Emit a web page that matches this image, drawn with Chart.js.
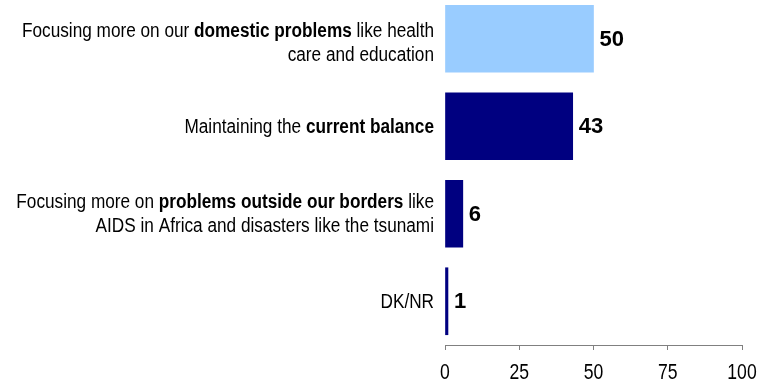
<!DOCTYPE html>
<html>
<head>
<meta charset="utf-8">
<script src="https://cdn.jsdelivr.net/npm/chart.js@4"></script>
<style>
  html, body { margin: 0; padding: 0; background: #fff; overflow: hidden; }
  #wrap { position: absolute; left: 0; top: -5px; width: 757px; height: 390px; }
</style>
</head>
<body>
<div id="wrap"><canvas id="c" width="757" height="390"></canvas></div>
<script>
// Category labels; "**" marks bold text, "\n" breaks a line.
const categories = [
  "Focusing more on our **domestic problems** like health\ncare and education",
  "Maintaining the **current balance**",
  "Focusing more on **problems outside our borders** like\nAIDS in Africa and disasters like the tsunami",
  "DK/NR"
];
const values = [50, 43, 6, 1];
const barColors = ["#99CCFF", "#000080", "#000080", "#000080"];
const xTicks = [0, 25, 50, 75, 100];

const FONT = "'Liberation Sans', Arial, sans-serif";
const NARROW = 0.86;     // horizontal squeeze for the condensed label face
const TICK_NARROW = 0.8;
const LABEL_NUDGE = [4, 0, 0, 0]; // vertical fine-tuning of each category label block

// Draws text squeezed horizontally, starting at x (left edge).
function narrowText(ctx, text, x, y, sx) {
  ctx.save();
  ctx.translate(x, y);
  ctx.scale(sx, 1);
  ctx.fillText(text, 0, 0);
  ctx.restore();
}

// Rich category labels left of the bars, value labels right of them, x tick labels below.
const richLabels = {
  id: 'richLabels',
  afterDatasetsDraw(chart) {
    const ctx = chart.ctx;
    const y = chart.scales.y;
    const xs = chart.scales.x;
    const meta = chart.getDatasetMeta(0);
    ctx.save();
    ctx.fillStyle = '#000';
    ctx.textBaseline = 'middle';
    ctx.textAlign = 'left';
    categories.forEach((cat, i) => {
      const cy = y.getPixelForValue(i);
      const lines = cat.split('\n');
      const lh = 24;
      const top = cy - (lines.length - 1) * lh / 2 + 1 + LABEL_NUDGE[i];
      lines.forEach((line, li) => {
        const segs = line.split('**').map((t, k) => ({ t, bold: k % 2 === 1 }));
        let w = 0;
        segs.forEach(s => {
          ctx.font = (s.bold ? 'bold ' : '') + '20px ' + FONT;
          s.w = ctx.measureText(s.t).width * NARROW;
          w += s.w;
        });
        let x = 434 - w;
        segs.forEach(s => {
          ctx.font = (s.bold ? 'bold ' : '') + '20px ' + FONT;
          narrowText(ctx, s.t, x, top + li * lh, NARROW);
          x += s.w;
        });
      });
      const bar = meta.data[i];
      ctx.font = 'bold 22px ' + FONT;
      ctx.fillText(String(values[i]), bar.x + 6, cy + 1);
    });
    // x tick labels
    ctx.font = '22px ' + FONT;
    xTicks.forEach(v => {
      const t = String(v);
      const w = ctx.measureText(t).width * TICK_NARROW;
      narrowText(ctx, t, xs.getPixelForValue(v) - w / 2, chart.chartArea.bottom + 28, TICK_NARROW);
    });
    ctx.restore();
  }
};

new Chart(document.getElementById('c'), {
  type: 'bar',
  data: {
    labels: categories.map(c => c.replace(/\*\*/g, '')),
    datasets: [{
      data: values,
      backgroundColor: barColors,
      borderWidth: 0,
      barThickness: 67
    }]
  },
  options: {
    indexAxis: 'y',
    responsive: false,
    animation: false,
    devicePixelRatio: 1,
    layout: { padding: { left: 445, right: 15, top: 0, bottom: 35 } },
    plugins: { legend: { display: false }, tooltip: { enabled: false } },
    scales: {
      y: { display: false },
      x: {
        min: 0,
        max: 100,
        afterBuildTicks(scale) { scale.ticks = xTicks.map(v => ({ value: v })); },
        grid: { drawOnChartArea: false, drawTicks: true, tickLength: 5, color: '#808080' },
        border: { display: true, color: '#808080', width: 1 },
        ticks: { display: false }
      }
    }
  },
  plugins: [richLabels]
});
</script>
</body>
</html>
